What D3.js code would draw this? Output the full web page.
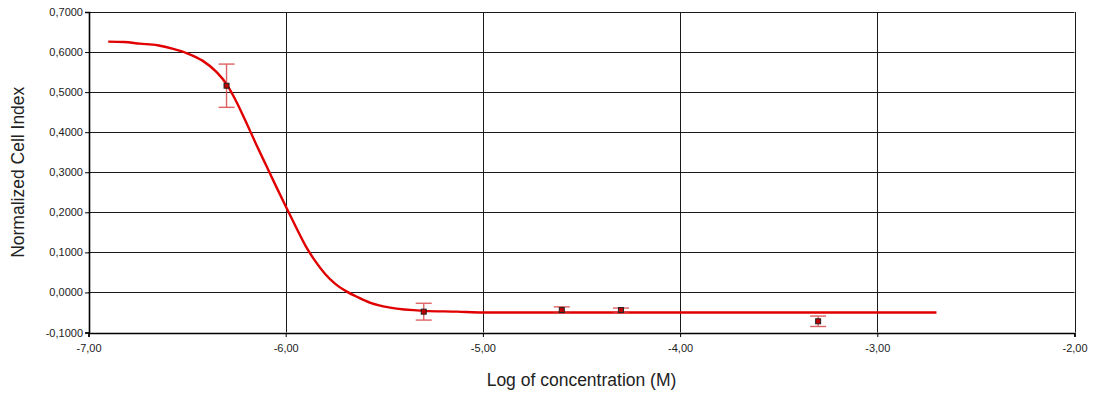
<!DOCTYPE html>
<html>
<head>
<meta charset="utf-8">
<script src="https://cdn.jsdelivr.net/npm/d3@7"></script>
<style>
  html, body { margin: 0; padding: 0; background: #fff; }
  svg { display: block; font-family: "Liberation Sans", Arial, sans-serif; }
</style>
</head>
<body>
<svg id="chart" width="1098" height="394"></svg>
<script>
// Measured responses: log concentration (M), mean normalized cell index, error
const pointLogConc = [-6.30, -5.30, -4.60, -4.30, -3.30];
const pointMean    = [0.516, -0.048, -0.044, -0.044, -0.072];
const pointError   = [0.054, 0.021, 0.008, 0.005, 0.013];

// Fitted dose-response curve, sampled along log concentration
const curveLogConc = [-6.90, -6.82, -6.74, -6.65, -6.57, -6.50, -6.42, -6.35, -6.30, -6.25,
                      -6.20, -6.15, -6.10, -6.05, -6.00, -5.95, -5.90, -5.85, -5.80, -5.75,
                      -5.69, -5.63, -5.57, -5.47, -5.30, -5.13, -5.00, -4.50, -4.00, -3.50,
                      -3.00, -2.70];
const curveValue   = [0.626, 0.625, 0.621, 0.617, 0.608, 0.597, 0.578, 0.550, 0.520, 0.476,
                      0.424, 0.370, 0.318, 0.266, 0.215, 0.165, 0.117, 0.078, 0.046, 0.022,
                      0.002, -0.013, -0.026, -0.038, -0.046, -0.048, -0.050, -0.050, -0.050, -0.050,
                      -0.050, -0.050];

// Axis ticks
const xTicks = [-7, -6, -5, -4, -3, -2];
const yTicks = [-0.1, 0, 0.1, 0.2, 0.3, 0.4, 0.5, 0.6, 0.7];

const svg = d3.select("#chart");
const plotLeft = 88.5, plotRight = 1074.5, plotTop = 12, plotBottom = 332.5;

const x = d3.scaleLinear().domain([-7, -2]).range([plotLeft, plotRight]);
const y = d3.scaleLinear().domain([-0.1, 0.7]).range([plotBottom, plotTop]);

const fmtX = v => d3.format(".2f")(v).replace(".", ",").replace("−", "-");
const fmtY = v => d3.format(".4f")(v).replace(".", ",").replace("−", "-");

// Grid
const grid = svg.append("g");
grid.selectAll("line.h").data(yTicks).join("line")
  .attr("x1", plotLeft).attr("x2", plotRight)
  .attr("y1", d => Math.round(y(d)) + 0.5).attr("y2", d => Math.round(y(d)) + 0.5)
  .attr("stroke", "#1a1a1a").attr("stroke-width", 1);
grid.selectAll("line.v").data(xTicks).join("line")
  .attr("y1", plotTop).attr("y2", plotBottom)
  .attr("x1", d => Math.round(x(d)) + 0.5).attr("x2", d => Math.round(x(d)) + 0.5)
  .attr("stroke", "#1a1a1a").attr("stroke-width", 1);

// Axes
const yAxis = d3.axisLeft(y).tickValues(yTicks).tickFormat(fmtY).tickSize(4).tickPadding(2);
const xAxis = d3.axisBottom(x).tickValues(xTicks).tickFormat(fmtX).tickSize(4).tickPadding(7);

const gy = svg.append("g").attr("transform", `translate(${Math.round(plotLeft)},0)`).call(yAxis);
const gx = svg.append("g").attr("transform", `translate(0,${Math.round(plotBottom)})`).call(xAxis);
[gx, gy].forEach(g => {
  g.selectAll(".domain").attr("stroke", "#000").attr("stroke-width", 1.6);
  g.selectAll(".tick line").attr("stroke", "#000");
  g.selectAll("text").attr("fill", "#222").style("font-size", "11px")
    .style("font-family", "'Liberation Sans', Arial, sans-serif");
});

// Curve
const line = d3.line().x(d => x(d[0])).y(d => y(d[1])).curve(d3.curveMonotoneX);
svg.append("path")
  .datum(curveLogConc.map((c, i) => [c, curveValue[i]]))
  .attr("d", line)
  .attr("fill", "none")
  .attr("stroke", "#e00000")
  .attr("stroke-width", 2.4)
  .attr("stroke-linejoin", "round");

// Error bars
const pts = pointLogConc.map((c, i) => ({ c, m: pointMean[i], e: pointError[i] }));
const eb = svg.append("g").attr("stroke", "#d9474a").attr("stroke-width", 1.4).attr("opacity", 0.85);
eb.selectAll("line.stem").data(pts).join("line")
  .attr("x1", d => x(d.c)).attr("x2", d => x(d.c))
  .attr("y1", d => y(d.m + d.e)).attr("y2", d => y(d.m - d.e));
eb.selectAll("line.capTop").data(pts).join("line")
  .attr("x1", d => x(d.c) - 8).attr("x2", d => x(d.c) + 8)
  .attr("y1", d => y(d.m + d.e)).attr("y2", d => y(d.m + d.e));
eb.selectAll("line.capBot").data(pts).join("line")
  .attr("x1", d => x(d.c) - 8).attr("x2", d => x(d.c) + 8)
  .attr("y1", d => y(d.m - d.e)).attr("y2", d => y(d.m - d.e));

// Point markers
svg.append("g").selectAll("rect").data(pts).join("rect")
  .attr("x", d => x(d.c) - 2.5).attr("y", d => y(d.m) - 2.5)
  .attr("width", 5).attr("height", 5)
  .attr("fill", "#c00000").attr("stroke", "#222").attr("stroke-width", 1);

// Axis titles
svg.append("text")
  .attr("x", (plotLeft + plotRight) / 2).attr("y", 386)
  .attr("text-anchor", "middle")
  .style("font-size", "17.5px").attr("fill", "#222")
  .text("Log of concentration (M)");

svg.append("text")
  .attr("transform", `translate(24,${(plotTop + plotBottom) / 2}) rotate(-90)`)
  .attr("text-anchor", "middle")
  .style("font-size", "17.5px").attr("fill", "#222")
  .text("Normalized Cell Index");
</script>
</body>
</html>
